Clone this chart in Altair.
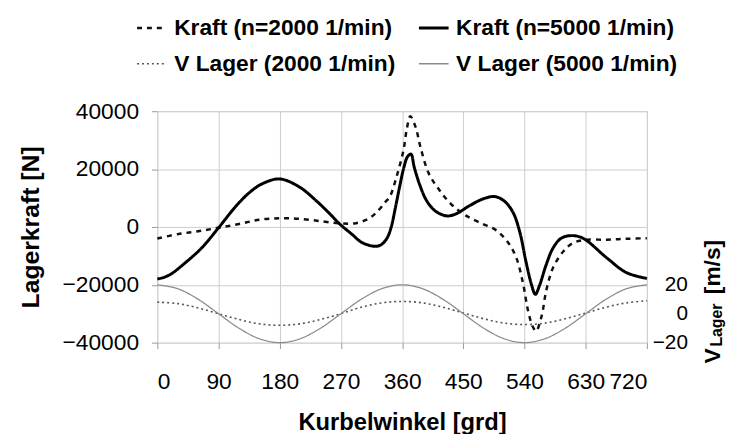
import altair as alt
import pandas as pd

# ---------------- data ----------------
series_names = ["Kraft (n=2000 1/min)", "V Lager (2000 1/min)",
                "Kraft (n=5000 1/min)", "V Lager (5000 1/min)"]

angle_k2000 = [0, 30, 60, 90, 120, 150, 180, 210, 243, 270, 292, 310, 321, 335,
               342, 352, 362, 367, 372, 380, 387, 399, 414, 432, 454, 478, 498,
               515, 528, 538, 545, 552, 557, 565, 572, 582, 597, 611, 629, 661,
               690, 720]
kraft_2000 = [-4000, -2500, -1500, -300, 1000, 2500, 3000, 2800, 1900, 1200, 1300,
              2800, 4700, 8500, 10500, 17500, 26500, 34000, 38300, 34400, 27600,
              18600, 13000, 7900, 3900, 1100, -1100, -5100, -10700, -19700, -28700,
              -34400, -36000, -31000, -22000, -14100, -8500, -5600, -4500, -4400,
              -4100, -3900]

angle_k5000 = [0, 10, 20, 40, 65, 90, 115, 136, 155, 180, 209, 233, 253, 267, 287,
               301, 321, 330, 338, 344, 350, 356, 362, 368, 373, 378, 386, 395, 405,
               415, 427, 439, 459, 478, 496, 510, 523, 533, 542, 550, 556, 562, 572,
               582, 594, 609, 626, 661, 690, 720]
kraft_5000 = [-18000, -17400, -16300, -12600, -7300, -300, 7000, 12000, 15000, 16600,
              13800, 9200, 4700, 1300, -2700, -5400, -6700, -6000, -3800, 0, 6500,
              13500, 20000, 24300, 25200, 20500, 14500, 9500, 6300, 4600, 3800, 4500,
              7300, 9600, 10500, 9000, 5100, -1700, -11800, -19700, -23300, -20300,
              -13000, -7300, -3900, -3000, -3900, -10700, -15800, -17800]

angle_v = [0, 30, 60, 90, 120, 150, 180, 210, 240, 270, 300, 330, 360, 390, 420,
           450, 480, 510, 540, 570, 600, 630, 660, 690, 720]
v_2000 = [8, 7, 4, 0, -4, -7, -8, -7, -4, 0, 4.5, 7.5, 8.5, 7.5, 4.5, 0.5, -3.5,
          -6.5, -7.5, -6.5, -3.5, 0.5, 4.5, 7.5, 9]
v_5000 = [20, 17.3, 10, 0, -10, -17.3, -20, -17.3, -10, 0, 10, 17.3, 20, 17.3, 10,
          0, -10, -17.3, -20, -17.3, -10, 0, 10, 17.3, 20]

x_ticks = [0, 90, 180, 270, 360, 450, 540, 630, 720]
y_ticks = [-40000, -20000, 0, 20000, 40000]
v_ticks = [-20, 0, 20]

# ---------------- tables ----------------
df_k = pd.concat([
    pd.DataFrame({"angle": angle_k2000, "value": kraft_2000, "series": series_names[0]}),
    pd.DataFrame({"angle": angle_k5000, "value": kraft_5000, "series": series_names[2]}),
])
df_v = pd.concat([
    pd.DataFrame({"angle": angle_v, "value": v_2000, "series": series_names[1]}),
    pd.DataFrame({"angle": angle_v, "value": v_5000, "series": series_names[3]}),
])

FONT = "Liberation Sans"

legend = alt.Legend(
    orient="none", legendX=-22, legendY=-101, columns=2, title=None,
    symbolType="stroke", symbolSize=900, labelFont=FONT, labelFontSize=23,
    labelFontWeight="bold", labelColor="black", labelOffset=6,
    columnPadding=17, rowPadding=8, labelLimit=400, padding=0,
)

color = alt.Color("series:N", scale=alt.Scale(domain=series_names,
                  range=["#111111", "#555555", "#000000", "#8c8c8c"]), legend=legend)
dash = alt.StrokeDash("series:N", scale=alt.Scale(domain=series_names,
                      range=[[5, 5], [2, 3], [1, 0], [1, 0]]), legend=legend)
width = alt.StrokeWidth("series:N", scale=alt.Scale(type="ordinal", domain=series_names,
                        range=[2.5, 1.6, 3, 1.3]), legend=legend)

x_enc = alt.X("angle:Q", scale=alt.Scale(domain=[0, 720], nice=False, zero=False),
              axis=alt.Axis(values=x_ticks, title="Kurbelwinkel [grd]", grid=True,
                            gridColor="#cccccc", domain=False, tickSize=6,
                            tickColor="#999999", labelPadding=22, labelFontSize=23,
                            titleFontSize=24, titleX=247.5, titleY=88,
                            titleAlign="center", titleBaseline="alphabetic"))

k_layer = alt.Chart(df_k).mark_line(interpolate="catmull-rom").encode(
    x=x_enc,
    y=alt.Y("value:Q", scale=alt.Scale(domain=[-40000, 40000], nice=False),
            axis=alt.Axis(values=y_ticks, format="d", title="Lagerkraft [N]",
                          grid=True, gridColor="#cccccc", domain=False, tickSize=6,
                          tickColor="#999999", labelPadding=13, labelFontSize=23,
                          titleFontSize=25, titleX=-120, titleY=117, titleAngle=270,
                          titleAlign="center", titleBaseline="alphabetic")),
    color=color, strokeDash=dash, strokeWidth=width,
)

v_layer = alt.Chart(df_v).mark_line(interpolate="catmull-rom").encode(
    x=x_enc,
    y=alt.Y("value:Q", scale=alt.Scale(domain=[-20, 140], nice=False, zero=False),
            axis=alt.Axis(orient="right", values=v_ticks, title=None, grid=False,
                          ticks=False, domain=False, labelAlign="right",
                          labelPadding=41, labelFontSize=21)),
    color=color, strokeDash=dash, strokeWidth=width,
)

title_parts = ["V", "Lager", "[m/s]"]
t_v = alt.Chart(pd.DataFrame({"t": [title_parts[0]]})).mark_text(
    angle=270, align="left", baseline="alphabetic", font=FONT, fontWeight="bold",
    fontSize=23, color="black").encode(x=alt.value(569), y=alt.value(255), text="t:N")
t_sub = alt.Chart(pd.DataFrame({"t": [title_parts[1]]})).mark_text(
    angle=270, align="left", baseline="alphabetic", font=FONT, fontWeight="bold",
    fontSize=16, color="black").encode(x=alt.value(571), y=alt.value(238), text="t:N")
t_unit = alt.Chart(pd.DataFrame({"t": [title_parts[2]]})).mark_text(
    angle=270, align="left", baseline="alphabetic", font=FONT, fontWeight="bold",
    fontSize=23, color="black").encode(x=alt.value(569), y=alt.value(185), text="t:N")

chart = alt.layer(k_layer, v_layer, t_v, t_sub, t_unit).resolve_scale(
    y="independent"
).properties(
    width=495, height=234,
    padding={"left": 151, "top": 102, "right": 80, "bottom": 90},
    autosize=alt.AutoSizeParams(type="none"),
).configure_view(
    stroke="black", strokeWidth=2.5
).configure_axis(
    labelFont=FONT, labelFontWeight="bold", labelColor="black",
    titleFont=FONT, titleFontWeight="bold", titleColor="black",
).configure(background="white")

chart.save("out.html", embed_options={"renderer": "svg", "actions": False})
